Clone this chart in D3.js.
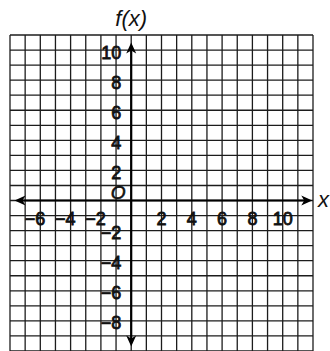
<!DOCTYPE html>
<html>
<head>
<meta charset="utf-8">
<script src="https://cdn.jsdelivr.net/npm/d3@7"></script>
<style>
  html, body { margin: 0; padding: 0; background: #fff; }
  svg { display: block; }
  text { font-family: "Liberation Sans", Arial, sans-serif; fill: #111; }
</style>
</head>
<body>
<div id="chart"></div>
<script>
// grid extent (graph units) and labels
var xDomain = [-8, 12];
var yDomain = [-10, 11];
var xTicks = [-6, -4, -2, 2, 4, 6, 8, 10];
var yTicks = [10, 8, 6, 4, 2, -2, -4, -6, -8];
var xAxisEnds = [-7.7, 11.95];
var yAxisEnds = [-9.7, 10.5];

var width = 330, height = 351;

var svg = d3.select("#chart").append("svg")
  .attr("width", width)
  .attr("height", height);

var x = d3.scaleLinear().domain(xDomain).range([10, 313]);
var y = d3.scaleLinear().domain(yDomain).range([351, 35]);

function fmt(v) { return v < 0 ? "\u2212" + Math.abs(v) : String(v); }

// graph paper grid
var grid = svg.append("g").attr("class", "grid")
  .attr("stroke", "#1c1c1c")
  .attr("stroke-width", 1.3);

grid.selectAll("line.v")
  .data(d3.range(xDomain[0], xDomain[1] + 1))
  .enter().append("line")
  .attr("class", "v")
  .attr("x1", function(d) { return x(d); })
  .attr("x2", function(d) { return x(d); })
  .attr("y1", y(yDomain[1]))
  .attr("y2", y(yDomain[0]));

grid.selectAll("line.h")
  .data(d3.range(yDomain[0], yDomain[1] + 1))
  .enter().append("line")
  .attr("class", "h")
  .attr("x1", x(xDomain[0]))
  .attr("x2", x(xDomain[1]))
  .attr("y1", function(d) { return y(d); })
  .attr("y2", function(d) { return y(d); });

// axes with arrow heads
var axes = svg.append("g").attr("class", "axes");

axes.append("line")
  .attr("x1", x(xAxisEnds[0]) + 4).attr("x2", x(xAxisEnds[1]) - 4)
  .attr("y1", y(0)).attr("y2", y(0))
  .attr("stroke", "#000").attr("stroke-width", 2.2);

axes.append("line")
  .attr("x1", x(0)).attr("x2", x(0))
  .attr("y1", y(yAxisEnds[1]) + 4).attr("y2", y(yAxisEnds[0]) - 4)
  .attr("stroke", "#000").attr("stroke-width", 2.2);

function arrow(tx, ty, angle) {
  axes.append("path")
    .attr("d", "M0,0 L-11,-5 L-8,0 L-11,5 Z")
    .attr("fill", "#000")
    .attr("transform", "translate(" + tx + "," + ty + ") rotate(" + angle + ")");
}
arrow(x(xAxisEnds[1]), y(0), 0);
arrow(x(xAxisEnds[0]), y(0), 180);
arrow(x(0), y(yAxisEnds[1]), -90);
arrow(x(0), y(yAxisEnds[0]), 90);

// tick labels
var labels = svg.append("g").attr("class", "labels")
  .attr("font-size", 18)
  .attr("stroke", "#111")
  .attr("stroke-width", 0.8);

labels.selectAll("text.xl")
  .data(xTicks)
  .enter().append("text")
  .attr("class", "xl")
  .attr("x", function(d) { return d < 0 ? x(d) + 5 : x(d); })
  .attr("y", y(0) + 24)
  .attr("text-anchor", function(d) { return d < 0 ? "end" : "middle"; })
  .text(fmt);

labels.selectAll("text.yl")
  .data(yTicks)
  .enter().append("text")
  .attr("class", "yl")
  .attr("x", x(0) - 10)
  .attr("y", function(d) { return y(d) + 8.5; })
  .attr("text-anchor", "end")
  .text(fmt);

// origin and axis names
svg.append("text")
  .attr("x", x(0) - 13).attr("y", y(0) - 2)
  .attr("text-anchor", "middle")
  .attr("font-size", 19).attr("font-style", "italic")
  .attr("stroke", "#111").attr("stroke-width", 0.6)
  .text("O");

svg.append("text")
  .attr("x", x(0)).attr("y", 26)
  .attr("text-anchor", "middle")
  .attr("font-size", 22).attr("font-style", "italic")
  .text("f(x)");

svg.append("text")
  .attr("x", 318).attr("y", y(0) + 6)
  .attr("font-size", 22).attr("font-style", "italic")
  .text("x");
</script>
</body>
</html>
